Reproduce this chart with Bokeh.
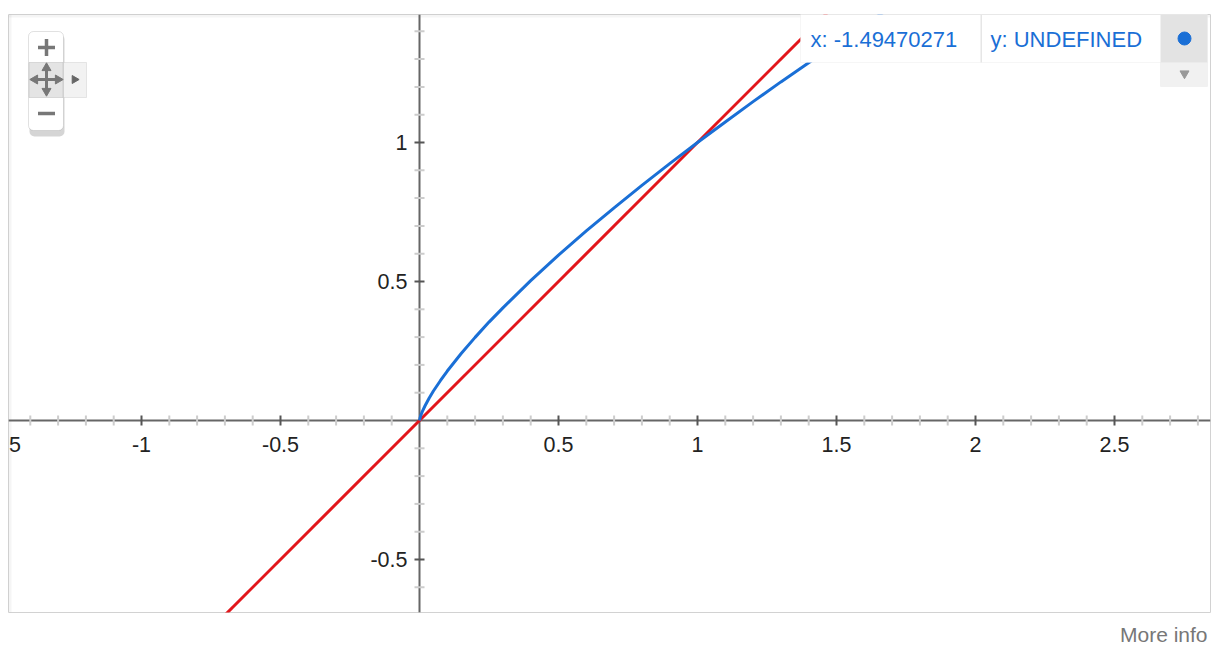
import math
from bokeh.plotting import figure
from bokeh.models import Range1d, Span, BoxAnnotation, Label, ColumnDataSource, Title
from bokeh.core.properties import value
from bokeh.embed import file_html
from bokeh.resources import INLINE

# ---- data ----
blue_x = [0, 0.002, 0.005, 0.01, 0.02, 0.035, 0.05, 0.075, 0.1, 0.15, 0.2, 0.25, 0.3,
          0.4, 0.5, 0.6, 0.7, 0.8, 0.9, 1.0, 1.1, 1.2, 1.3, 1.4, 1.5, 1.6, 1.7, 1.8]
blue_y = [0, 0.009, 0.019, 0.032, 0.053, 0.081, 0.106, 0.143, 0.178, 0.241, 0.299, 0.354, 0.405,
          0.503, 0.595, 0.682, 0.765, 0.846, 0.924, 1.0, 1.074, 1.147, 1.218, 1.287, 1.355, 1.423, 1.489, 1.554]
red_x = [-0.8, 1.6]
red_y = [-0.8, 1.6]

x_ticks = [-1.5, -1, -0.5, 0.5, 1, 1.5, 2, 2.5]
x_tick_labels = ["-1.5", "-1", "-0.5", "0.5", "1", "1.5", "2", "2.5"]
y_ticks = [-0.5, 0.5, 1]
y_tick_labels = ["-0.5", "0.5", "1"]
x_minor = [round(-1.4 + 0.1 * i, 1) for i in range(43)]
x_minor = [t for t in x_minor if abs(t * 2 - round(t * 2)) > 1e-9]
y_minor = [round(-0.6 + 0.1 * i, 1) for i in range(21)]
y_minor = [t for t in y_minor if abs(t * 2 - round(t * 2)) > 1e-9]

info_x = "x: -1.49470271"
info_y = "y: UNDEFINED"
more_info = "More info"

# ---- layout constants ----
W, H = 1218, 656
FL, FT, FR, FB = 8, 14, 8, 44          # borders around the frame
FW, FH = W - FL - FR, H - FT - FB
S = 278.0                              # pixels per unit
ORX, ORY = 411, 406                    # origin in frame pixels
X0, X1 = -ORX / S, (FW - ORX) / S
Y1, Y0 = ORY / S, -(FH - ORY) / S
PX0, PY0 = 8, 14                       # frame top-left in picture pixels


def dx(px):
    return X0 + (px - PX0) / S


def dy(py):
    return Y1 - (py - PY0) / S


BLUE = "#1a6fd6"
RED = "#e2161b"
FONT = "Liberation Sans"

p = figure(width=W, height=H, output_backend="svg", toolbar_location=None,
           x_range=Range1d(X0, X1), y_range=Range1d(Y0, Y1),
           x_axis_location=None, y_axis_location=None,
           min_border_left=FL, min_border_top=FT, min_border_right=FR, min_border_bottom=FB)
p.grid.visible = False
p.outline_line_color = "#d2d2d2"
p.outline_line_width = 1
p.background_fill_color = "white"
p.border_fill_color = "white"

# subtle shadow along top and left frame edges
p.add_layout(BoxAnnotation(left=dx(8), right=dx(1210), top=dy(14), bottom=dy(17),
                           fill_color="#000000", fill_alpha=0.04, line_alpha=0, level="underlay"))
p.add_layout(BoxAnnotation(left=dx(8), right=dx(11), top=dy(14), bottom=dy(612),
                           fill_color="#000000", fill_alpha=0.04, line_alpha=0, level="underlay"))

# axes
p.add_layout(Span(location=0, dimension="width", line_color="#666666", line_width=2, level="underlay"))
p.add_layout(Span(location=0, dimension="height", line_color="#666666", line_width=2, level="underlay"))

# minor ticks
p.scatter(x=x_minor, y=[0] * len(x_minor), marker="dash", size=10, angle=math.pi / 2,
          line_color="#cccccc", line_width=2)
p.scatter(x=[0] * len(y_minor), y=y_minor, marker="dash", size=10,
          line_color="#cccccc", line_width=2)
# major ticks
p.scatter(x=x_ticks, y=[0] * len(x_ticks), marker="dash", size=10, angle=math.pi / 2,
          line_color="#555555", line_width=2)
p.scatter(x=[0] * len(y_ticks), y=y_ticks, marker="dash", size=10,
          line_color="#555555", line_width=2)

# tick labels
xs = ColumnDataSource(dict(x=x_ticks, y=[0] * len(x_ticks), t=x_tick_labels))
p.text(x="x", y="y", text="t", source=xs, text_align="center", text_baseline="middle",
       y_offset=24, text_font=value(FONT), text_font_size="21.5px", text_color="#222222")
ys = ColumnDataSource(dict(x=[0] * len(y_ticks), y=y_ticks, t=y_tick_labels))
p.text(x="x", y="y", text="t", source=ys, text_align="right", text_baseline="middle",
       x_offset=-12, text_font=value(FONT), text_font_size="21.5px", text_color="#222222")

# curves
p.line(red_x, red_y, line_color=RED, line_width=3)
p.line(blue_x, blue_y, line_color=BLUE, line_width=3)

# ---- info box (top right) ----
p.add_layout(BoxAnnotation(left=dx(800), right=dx(1207), top=dy(8), bottom=dy(62),
                           fill_color="white", fill_alpha=1, line_color="#e2e2e2", line_width=1))
p.add_layout(BoxAnnotation(left=dx(980), right=dx(981.5), top=dy(14), bottom=dy(62),
                           fill_color="#e6e6e6", fill_alpha=1, line_alpha=0))
p.add_layout(BoxAnnotation(left=dx(1160), right=dx(1207), top=dy(14), bottom=dy(62),
                           fill_color="#e3e3e3", fill_alpha=1, line_alpha=0))
p.add_layout(BoxAnnotation(left=dx(1160), right=dx(1207), top=dy(62), bottom=dy(86),
                           fill_color="#f1f1f1", fill_alpha=1, line_color="#e2e2e2", line_width=1))
p.add_layout(Label(x=dx(810), y=dy(39), text=info_x, text_baseline="middle",
                   text_font=FONT, text_font_size="22px", text_color=BLUE))
p.add_layout(Label(x=dx(990), y=dy(39), text=info_y, text_baseline="middle",
                   text_font=FONT, text_font_size="22px", text_color=BLUE))

# ---- zoom control (top left) ----
p.add_layout(BoxAnnotation(left=dx(29), right=dx(64), top=dy(34), bottom=dy(136),
                           fill_color="#888888", fill_alpha=0.35, line_alpha=0, border_radius=5))
p.add_layout(BoxAnnotation(left=dx(28), right=dx(63), top=dy(31), bottom=dy(130),
                           fill_color="white", fill_alpha=1, line_color="#9a9a9a", line_width=1,
                           border_radius=5))
p.add_layout(BoxAnnotation(left=dx(28.5), right=dx(62.5), top=dy(62), bottom=dy(97),
                           fill_color="#e4e4e4", fill_alpha=1, line_color="#9a9a9a", line_width=1))
p.add_layout(BoxAnnotation(left=dx(63), right=dx(86), top=dy(62), bottom=dy(97),
                           fill_color="#f2f2f2", fill_alpha=1, line_color="#b5b5b5", line_width=1))

ICON = "#777777"
r = p.scatter(x=[dx(46)], y=[dy(47)], marker="cross", size=17, line_color=ICON, line_width=3.5)
r.level = "overlay"
r = p.scatter(x=[dx(46)], y=[dy(113)], marker="dash", size=17, line_color=ICON, line_width=3.5)
r.level = "overlay"
r = p.scatter(x=[dx(46)], y=[dy(79)], marker="cross", size=24, line_color=ICON, line_width=3)
r.level = "overlay"
r = p.scatter(x=[dx(46), dx(46), dx(34.5), dx(57.5)], y=[dy(67.5), dy(90.5), dy(79), dy(79)],
              marker="triangle", size=9,
              angle=[0, math.pi, math.pi / 2, -math.pi / 2],
              fill_color=ICON, line_color=ICON)
r.level = "overlay"
r = p.scatter(x=[dx(74)], y=[dy(79)], marker="triangle", size=8, angle=-math.pi / 2,
              fill_color="#666666", line_color="#666666")
r.level = "overlay"

# info box dot and dropdown arrow
r = p.scatter(x=[dx(1184)], y=[dy(38)], marker="circle", size=13, fill_color=BLUE, line_color=BLUE)
r.level = "overlay"
r = p.scatter(x=[dx(1184)], y=[dy(73)], marker="triangle", size=9, angle=math.pi,
              fill_color="#999999", line_color="#999999")
r.level = "overlay"

# More info (below the frame, right aligned)
p.add_layout(Title(text=more_info, align="right", text_font=FONT, text_font_size="21px",
                   text_color="#777777", text_font_style="normal", standoff=17, offset=3), "below")

open("out.html", "w").write(file_html(p, INLINE))
